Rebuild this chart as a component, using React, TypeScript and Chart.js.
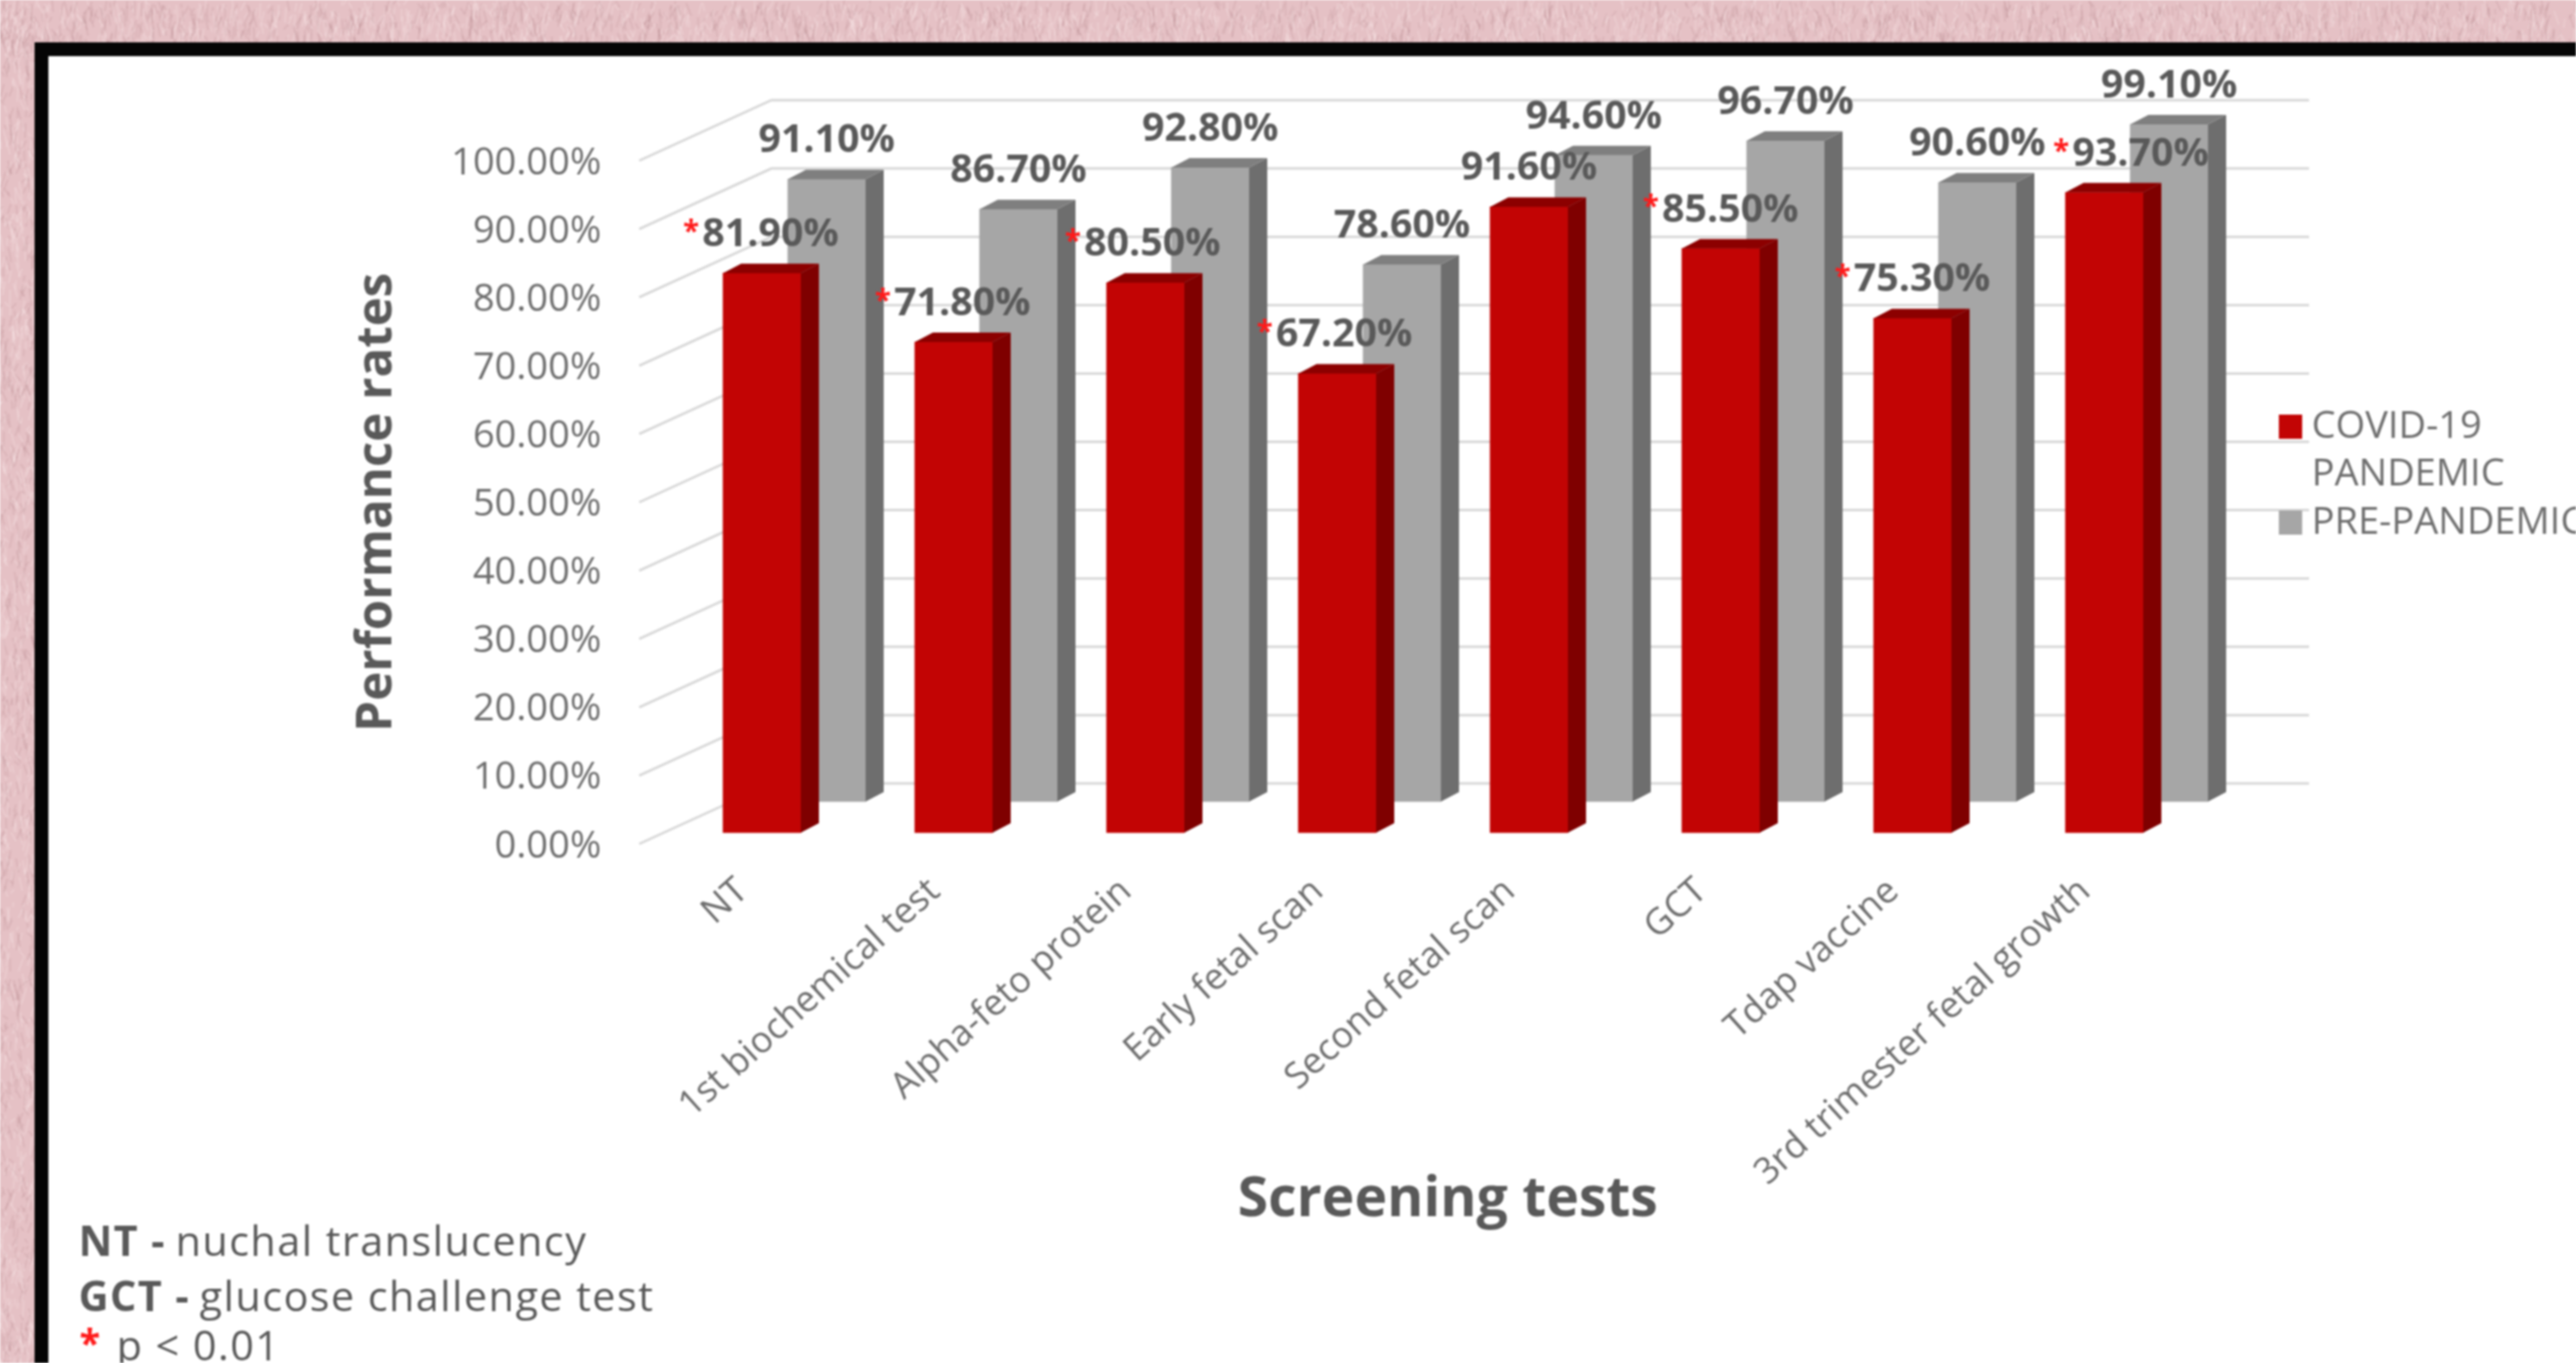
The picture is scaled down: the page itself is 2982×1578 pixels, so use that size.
import React, { useEffect, useRef } from "react";
import { Chart, registerables } from "chart.js";

Chart.register(...registerables);

const categories = ["NT", "1st biochemical test", "Alpha-feto protein", "Early fetal scan", "Second fetal scan", "GCT", "Tdap vaccine", "3rd trimester fetal growth"];
const pandemicLabel = "COVID-19 PANDEMIC";
const prePandemicLabel = "PRE-PANDEMIC";
const pandemicValues = [81.9, 71.8, 80.5, 67.2, 91.6, 85.5, 75.3, 93.7];
const prePandemicValues = [91.1, 86.7, 92.8, 78.6, 94.6, 96.7, 90.6, 99.1];
const significant = [true, true, true, true, false, true, true, true];
const yAxisTitle = "Performance rates";
const xAxisTitle = "Screening tests";
const notes = [
  ["NT - ", "nuchal translucency"],
  ["GCT - ", "glucose challenge test"],
];
const pNote = "p < 0.01";

const W = 2982;
const H = 1578;
const FONT = "'Open Sans'";
const TEXT = "#595959";
const TICK = "#6e6e6e";
const GRID = "#d9d9d9";

// depth placement of each series behind the front wall
const depth = [
  { dx: 22, dy: -13, front: "#c20404", side: "#7f0000", top: "#8c0000" },
  { dx: 97, dy: -49, front: "#a6a6a6", side: "#6e6e6e", top: "#7f7f7f" },
];
const FACE_DX = 21;
const FACE_DY = -11;
const labelNudge = [10, 10, 8, 8, 0, 11, 11, 42];

// paper-like mottling of the page background (decoration only, no chart data)
function paintPaper(ctx: CanvasRenderingContext2D) {
  ctx.fillStyle = "#e5c1c5";
  ctx.fillRect(0, 0, W, H);
  let seed = 12345;
  const next = () => {
    seed = (seed * 1103515245 + 12345) & 0x7fffffff;
    return seed / 0x7fffffff;
  };
  ctx.lineWidth = 2;
  for (let i = 0; i < 5000; i++) {
    const onTop = next() < 0.75;
    const x = onTop ? next() * W : next() * 42;
    const y = onTop ? next() * 52 : next() * H;
    ctx.strokeStyle = next() < 0.5 ? "rgba(255,240,240,0.22)" : "rgba(170,120,125,0.16)";
    ctx.beginPath();
    ctx.moveTo(x, y);
    ctx.lineTo(x + (next() - 0.5) * 12, y + 4 + next() * 16);
    ctx.stroke();
  }
}

const scene = {
  id: "scene",
  beforeDraw(chart: any) {
    const { ctx } = chart;
    ctx.save();
    paintPaper(ctx);
    ctx.fillStyle = "#050505";
    ctx.fillRect(40, 49, W, H);
    ctx.fillStyle = "#ffffff";
    ctx.fillRect(56, 65, W, H);
    ctx.restore();
  },
  beforeDatasetsDraw(chart: any) {
    const { ctx, scales } = chart;
    const y = scales.y;
    ctx.save();
    ctx.strokeStyle = GRID;
    ctx.lineWidth = 3;
    for (const t of y.ticks) {
      const p = y.getPixelForValue(t.value);
      ctx.beginPath();
      ctx.moveTo(740, p);
      ctx.lineTo(893, p - 70);
      ctx.lineTo(2673, p - 70);
      ctx.stroke();
    }
    ctx.restore();
  },
  beforeDatasetDraw(chart: any, args: any) {
    const d = depth[args.index];
    chart.ctx.save();
    chart.ctx.translate(d.dx, d.dy);
  },
  afterDatasetDraw(chart: any, args: any) {
    const { ctx } = chart;
    const d = depth[args.index];
    for (const el of chart.getDatasetMeta(args.index).data) {
      const l = el.x - el.width / 2;
      const r = el.x + el.width / 2;
      ctx.fillStyle = d.side;
      ctx.beginPath();
      ctx.moveTo(r, el.y);
      ctx.lineTo(r + FACE_DX, el.y + FACE_DY);
      ctx.lineTo(r + FACE_DX, el.base + FACE_DY);
      ctx.lineTo(r, el.base);
      ctx.closePath();
      ctx.fill();
      ctx.fillStyle = d.top;
      ctx.beginPath();
      ctx.moveTo(l, el.y);
      ctx.lineTo(l + FACE_DX, el.y + FACE_DY);
      ctx.lineTo(r + FACE_DX, el.y + FACE_DY);
      ctx.lineTo(r, el.y);
      ctx.closePath();
      ctx.fill();
    }
    ctx.restore();
  },
  afterDatasetsDraw(chart: any) {
    const { ctx } = chart;
    ctx.save();
    ctx.textBaseline = "middle";
    ctx.textAlign = "center";
    // value labels, back series first
    [1, 0].forEach((ds) => {
      const d = depth[ds];
      chart.getDatasetMeta(ds).data.forEach((el: any, i: number) => {
        const value = chart.data.datasets[ds].data[i];
        const text = value.toFixed(2) + "%";
        const nudge = ds === 0 ? labelNudge[i] : 0;
        const x = el.x + d.dx + nudge;
        const yy = el.y + d.dy - 44;
        ctx.font = `bold 45.5px ${FONT}`;
        ctx.fillStyle = TEXT;
        ctx.fillText(text, x, yy);
        if (ds === 0 && significant[i]) {
          const tw = ctx.measureText(text).width;
          ctx.font = `bold 34px ${FONT}`;
          ctx.fillStyle = "#ff1a1a";
          ctx.fillText("*", x - tw / 2 - 13, yy - 3);
        }
      });
    });
    // legend
    const legend = [
      { lines: ["COVID-19", "PANDEMIC"], color: depth[0].front, y: 494 },
      { lines: ["PRE-PANDEMIC"], color: depth[1].front, y: 605 },
    ];
    ctx.textAlign = "left";
    ctx.font = `44px ${FONT}`;
    for (const item of legend) {
      ctx.fillStyle = item.color;
      ctx.fillRect(2638, item.y - 14, 27, 28);
      ctx.fillStyle = TICK;
      item.lines.forEach((line, n) => ctx.fillText(line, 2676, item.y + n * 55));
    }
    // footnotes
    (ctx as any).letterSpacing = "1.6px";
    notes.forEach(([bold, rest], n) => {
      const yy = 1440 + n * 64;
      ctx.font = `bold 48px ${FONT}`;
      ctx.fillStyle = TEXT;
      ctx.fillText(bold, 91, yy);
      const bw = ctx.measureText(bold).width;
      ctx.font = `48px ${FONT}`;
      ctx.fillText(rest, 88 + bw, yy);
    });
    ctx.font = `bold 44px ${FONT}`;
    ctx.fillStyle = "#ff1a1a";
    ctx.fillText("*", 92, 1558);
    ctx.font = `48px ${FONT}`;
    ctx.fillStyle = TEXT;
    ctx.fillText(pNote, 135, 1561);
    ctx.restore();
  },
};

export default function App() {
  const ref = useRef<HTMLCanvasElement>(null);
  useEffect(() => {
    const chart = new Chart(ref.current as HTMLCanvasElement, {
      type: "bar",
      data: {
        labels: categories,
        datasets: [
          { label: pandemicLabel, data: pandemicValues, backgroundColor: depth[0].front, barThickness: 90, grouped: false, clip: false } as any,
          { label: prePandemicLabel, data: prePandemicValues, backgroundColor: depth[1].front, barThickness: 90, grouped: false, clip: false } as any,
        ],
      },
      options: {
        animation: false,
        responsive: false,
        devicePixelRatio: 1,
        layout: { padding: { top: 186, left: 0, right: 457, bottom: 0 } },
        plugins: { legend: { display: false }, tooltip: { enabled: false }, title: { display: false } },
        scales: {
          x: {
            grid: { display: false, drawTicks: false },
            border: { display: false },
            ticks: { color: TICK, font: { family: FONT, size: 42 }, minRotation: 42, maxRotation: 42, autoSkip: false, padding: 30 },
            title: { display: true, text: xAxisTitle, color: TEXT, font: { family: FONT, size: 64, weight: "bold" }, padding: { top: 0, bottom: 150 } },
            afterFit(s: any) { s.height = 601; },
            afterUpdate(s: any) {
              if (s.__shifted) return;
              s.__shifted = true;
              const orig = s.drawTitle;
              s.drawTitle = function () {
                s.ctx.save();
                s.ctx.translate(39, 0);
                orig.call(s);
                s.ctx.restore();
              };
            },
          },
          y: {
            min: 0,
            max: 100,
            grid: { display: false, drawTicks: false },
            border: { display: false },
            ticks: { stepSize: 10, color: TICK, font: { family: FONT, size: 44 }, padding: 53, callback: (v: any) => Number(v).toFixed(2) + "%" },
            title: { display: true, text: yAxisTitle, color: TEXT, font: { family: FONT, size: 57, weight: "bold" }, padding: { top: 403, bottom: 0 } },
            afterFit(s: any) { s.width = 749; },
            afterUpdate(s: any) {
              if (s.__shifted) return;
              s.__shifted = true;
              const orig = s.drawLabels;
              s.drawLabels = function (area: any) {
                s.ctx.save();
                s.ctx.translate(0, 3);
                orig.call(s, area);
                s.ctx.restore();
              };
            },
          },
        },
      },
      plugins: [scene],
    } as any);
    return () => chart.destroy();
  }, []);
  return (
    <div style={{ position: "fixed", left: 0, top: 0, width: W, height: H, overflow: "hidden" }}>
      <canvas ref={ref} width={W} height={H} style={{ display: "block", width: W, height: H, filter: "blur(1px)" }} />
    </div>
  );
}
